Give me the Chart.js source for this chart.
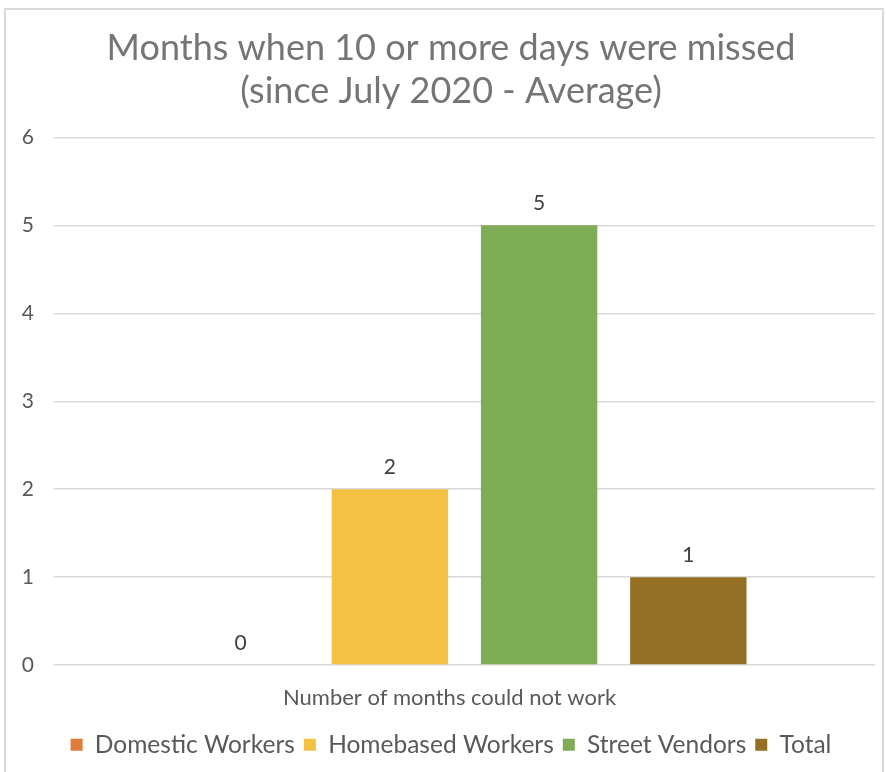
<!DOCTYPE html>
<html>
<head>
<meta charset="utf-8">
<script src="https://cdn.jsdelivr.net/npm/chart.js@4/dist/chart.umd.min.js"></script>
<style>
  html, body { margin: 0; padding: 0; background: #fff; }
  #frame { position: absolute; left: 4px; top: 8px; width: 880px; height: 770px; border-top: 2px solid #d9d9d9; border-left: 2px solid #d9d9d9; border-right: 2px solid #d9d9d9; box-sizing: border-box; }
  #wrap { position: absolute; left: 0; top: 0; width: 886px; height: 772px; }
</style>
</head>
<body>
<div id="frame"></div>
<div id="wrap"><canvas id="months"></canvas></div>
<script>
var categories = ['Number of months could not work'];
var seriesNames = ['Domestic Workers', 'Homebased Workers', 'Street Vendors', 'Total'];
var domestic = [0];
var homebased = [2];
var vendors = [5];
var total = [1];
var yTicks = [0, 1, 2, 3, 4, 5, 6];

var colours = ['#e07b39', '#f3c242', '#7ead55', '#947024'];
var values = [domestic, homebased, vendors, total];

// little plugin to write the value above each bar
var valueLabels = {
    id: 'valueLabels',
    afterDatasetsDraw: function (chart) {
        var ctx = chart.ctx;
        ctx.save();
        ctx.font = '21px Lato';
        ctx.fillStyle = '#404040';
        ctx.textAlign = 'center';
        ctx.textBaseline = 'middle';
        chart.data.datasets.forEach(function (ds, i) {
            chart.getDatasetMeta(i).data.forEach(function (bar, j) {
                ctx.fillText(ds.data[j], bar.x, bar.y - 22);
            });
        });
        ctx.restore();
    }
};

var ctx = document.getElementById('months').getContext('2d');
var chart = new Chart(ctx, {
    type: 'bar',
    data: {
        labels: categories,
        datasets: seriesNames.map(function (name, i) {
            return {
                label: name,
                data: values[i],
                backgroundColor: colours[i],
                borderWidth: 0,
                categoryPercentage: 0.727,
                barPercentage: 0.78
            };
        })
    },
    options: {
        responsive: true,
        maintainAspectRatio: false,
        animation: false,
        layout: { padding: { left: 16, right: 0, top: 20, bottom: 5 } },
        plugins: {
            title: {
                display: true,
                text: ['Months when 10 or more days were missed', '(since July 2020 - Average)'],
                color: '#757575',
                font: { family: 'Lato', size: 36, weight: 'normal' },
                lineHeight: 1.15,
                padding: { top: 7, bottom: 24 }
            },
            legend: {
                position: 'bottom',
                labels: {
                    color: '#595959',
                    font: { family: 'Lato', size: 24.5 },
                    boxWidth: 12,
                    boxHeight: 12,
                    padding: 9
                }
            },
            tooltip: { enabled: false }
        },
        scales: {
            x: {
                grid: { display: false },
                border: { display: false },
                ticks: {
                    color: '#595959',
                    font: { family: 'Lato', size: 22 },
                    padding: 12,
                    labelOffset: -15
                }
            },
            y: {
                min: 0,
                max: 6,
                afterFit: function (axis) { axis.width = 38; },
                afterBuildTicks: function (axis) {
                    axis.ticks = yTicks.map(function (v) { return { value: v }; });
                },
                grid: { color: '#d9d9d9', lineWidth: 1.5, drawTicks: false },
                border: { display: false },
                ticks: {
                    color: '#595959',
                    font: { family: 'Lato', size: 21 },
                    padding: 20
                }
            },
            // empty strip on the right so the plot stops short of the edge
            yRight: {
                position: 'right',
                grid: { display: false },
                border: { display: false },
                ticks: { display: false },
                afterFit: function (axis) { axis.width = 11; }
            }
        }
    },
    plugins: [valueLabels]
});
</script>
</body>
</html>
